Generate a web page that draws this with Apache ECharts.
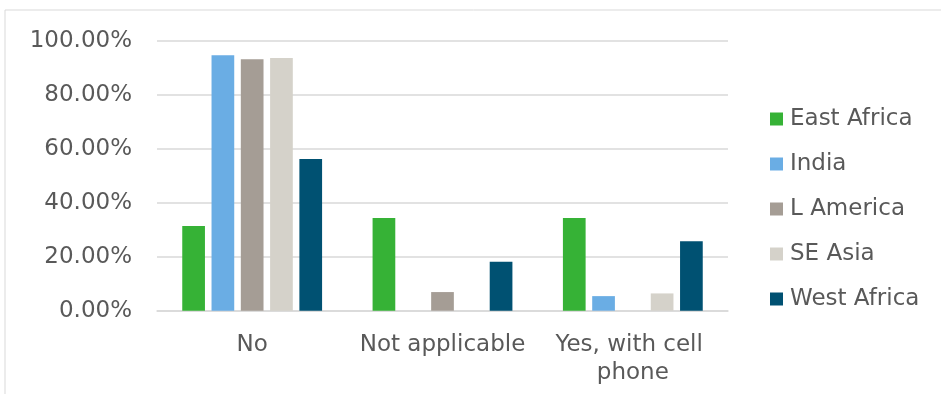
<!DOCTYPE html>
<html>
<head>
<meta charset="utf-8">
<script src="https://cdn.jsdelivr.net/npm/echarts@6/dist/echarts.min.js"></script>
<style>
html,body{margin:0;padding:0;background:#fff;}
#chart{width:941px;height:394px;}
</style>
</head>
<body>
<div id="chart"></div>
<script>
var categories = ["No", "Not applicable", "Yes, with cell phone"];
var seriesNames = ["East Africa", "India", "L America", "SE Asia", "West Africa"];
var eastAfrica = [31.4, 34.3, 34.3];
var india = [94.6, 0, 5.4];
var lAmerica = [93.1, 6.9, 0];
var seAsia = [93.6, 0, 6.4];
var westAfrica = [56.2, 18.1, 25.7];
var yTicks = [0, 20, 40, 60, 80, 100];

var colors = ["#36B236", "#6AADE4", "#A59D95", "#D5D2CA", "#005172"];
var values = [eastAfrica, india, lAmerica, seAsia, westAfrica];
var font = "DejaVu Sans";

var chart = echarts.init(document.getElementById('chart'), null, {renderer: 'canvas'});
chart.setOption({
  animation: false,
  color: colors,
  graphic: [{
    type: 'rect', shape: {x: 5, y: 10, width: 960, height: 420},
    style: {fill: 'none', stroke: '#D9D9D9', lineWidth: 1}, silent: true
  }],
  grid: {left: 157, right: 213, top: 40.7, bottom: 83.3, containLabel: false},
  legend: {
    orient: 'vertical', left: 770, top: 106, padding: 0,
    itemWidth: 13, itemHeight: 13, itemGap: 19, icon: 'rect',
    textStyle: {fontFamily: font, fontSize: 23, color: '#595959', lineHeight: 26, padding: [0,0,0,2]},
    data: seriesNames
  },
  xAxis: {
    type: 'category', data: categories,
    axisLine: {show: true, lineStyle: {color: '#D9D9D9', width: 1.5}},
    axisTick: {show: false},
    axisLabel: {fontFamily: font, fontSize: 23, color: '#595959', margin: 20,
      lineHeight: 28, width: 185, overflow: 'break', interval: 0}
  },
  yAxis: {
    type: 'value', min: 0, max: 100, interval: 20,
    axisLine: {show: false}, axisTick: {show: false},
    splitLine: {lineStyle: {color: '#D9D9D9', width: 1.5}},
    axisLabel: {fontFamily: font, fontSize: 23, color: '#595959', margin: 25,
      formatter: function (v) { return yTicks.indexOf(v) >= 0 ? v.toFixed(2) + '%' : ''; }}
  },
  series: seriesNames.map(function (n, i) {
    return {
      name: n, type: 'bar', data: values[i],
      barWidth: 22.7, barGap: '29%',
      itemStyle: {color: colors[i]}
    };
  })
});
</script>
</body>
</html>
